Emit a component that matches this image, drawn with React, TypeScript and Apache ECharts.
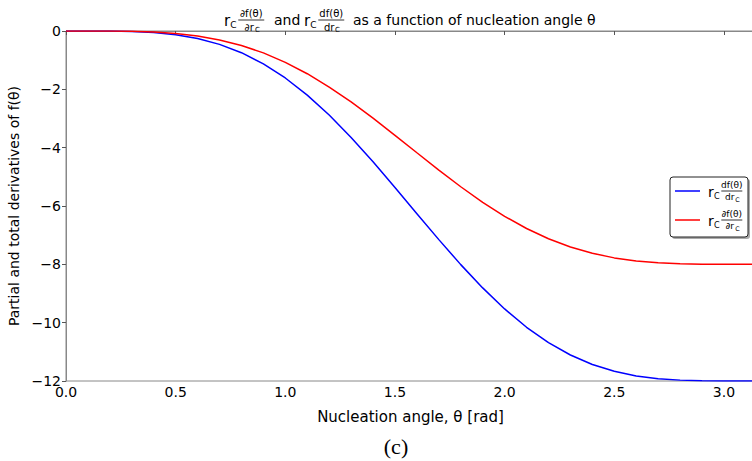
import React, { useEffect, useRef } from "react";
import * as echarts from "echarts";

const theta = [0, 0.1, 0.2, 0.3, 0.4, 0.5, 0.6, 0.7, 0.8, 0.9, 1.0, 1.1, 1.2, 1.3, 1.4, 1.5, 1.6, 1.7, 1.8, 1.9, 2.0, 2.1, 2.2, 2.3, 2.4, 2.5, 2.6, 2.7, 2.8, 2.9, 3.0, 3.1, 3.1416];
const totalDeriv = [0, 0, -0.004, -0.018, -0.055, -0.129, -0.259, -0.459, -0.744, -1.126, -1.611, -2.198, -2.882, -3.65, -4.485, -5.364, -6.263, -7.153, -8.01, -8.808, -9.529, -10.158, -10.685, -11.109, -11.434, -11.668, -11.825, -11.92, -11.97, -11.993, -11.999, -12.0, -12.0];
const partialDeriv = [0, 0, -0.002, -0.012, -0.036, -0.086, -0.172, -0.306, -0.496, -0.751, -1.074, -1.465, -1.921, -2.433, -2.99, -3.576, -4.175, -4.769, -5.34, -5.872, -6.353, -6.772, -7.123, -7.406, -7.623, -7.779, -7.883, -7.947, -7.98, -7.995, -7.999, -8.0, -8.0];

const titleRest = "as a function of nucleation angle θ";
const xName = "Nucleation angle, θ [rad]";
const yName = "Partial and total derivatives of f(θ)";
const caption = "(c)";

const FONT = '"DejaVu Sans", sans-serif';

function txt(text: string, x: number, y: number, size: number, align = "left", extra: any = {}) {
  return {
    type: "text",
    x,
    y,
    z: 100,
    style: {
      text,
      font: `${size}px ${FONT}`,
      fill: "#000",
      textAlign: align,
      textVerticalAlign: "middle",
      ...extra,
    },
  };
}

// r_C followed by fraction num/den (den = prefix + "r" with subscript C)
function rcFrac(x: number, y: number, num: string, denPrefix: string, big: number, small: number, w: number) {
  const cx = x + big * 0.95 + w / 2;
  const els: any[] = [
    txt("r", x, y + 1, big),
    txt("C", x + big * 0.42, y + big * 0.35, small * 0.9),
    txt(num, cx, y - small * 0.65, small, "center"),
    {
      type: "line",
      z: 100,
      shape: { x1: cx - w / 2, y1: y, x2: cx + w / 2, y2: y },
      style: { stroke: "#000", lineWidth: 0.8 },
    },
    txt(denPrefix + "r", cx - 2, y + small * 0.72, small, "center"),
    txt("C", cx + small * 0.38, y + small * 0.95, small * 0.7),
  ];
  return els;
}

export default function App() {
  const ref = useRef<HTMLDivElement>(null);
  useEffect(() => {
    if (!ref.current) return;
    const chart = echarts.init(ref.current, undefined, { renderer: "svg" });
    const blueData = theta.map((t, i) => [t, totalDeriv[i]]);
    const redData = theta.map((t, i) => [t, partialDeriv[i]]);
    const minus = (v: number) => (v < 0 ? "\u2212" + Math.abs(v) : String(v));

    const graphic: any[] = [
      ...rcFrac(224, 20, "∂f(θ)", "∂", 15, 10, 26),
      txt("and", 274, 20, 14),
      ...rcFrac(304, 20, "df(θ)", "d", 15, 10, 26),
      txt(titleRest, 353, 20, 14),
      // legend shadow + box
      {
        type: "rect",
        z: 99,
        shape: { x: 672, y: 179, width: 78, height: 60, r: 3 },
        style: { fill: "#aaa", stroke: "none" },
      },
      {
        type: "rect",
        z: 99,
        shape: { x: 670, y: 177, width: 78, height: 60, r: 3 },
        style: { fill: "#fff", stroke: "#222", lineWidth: 1 },
      },
      {
        type: "line",
        z: 100,
        shape: { x1: 675, y1: 191, x2: 700, y2: 191 },
        style: { stroke: "#0000ff", lineWidth: 1.5 },
      },
      ...rcFrac(708, 191, "df(θ)", "d", 14, 9, 21),
      {
        type: "line",
        z: 100,
        shape: { x1: 675, y1: 220, x2: 700, y2: 220 },
        style: { stroke: "#ff0000", lineWidth: 1.5 },
      },
      ...rcFrac(708, 220, "∂f(θ)", "∂", 14, 9, 21),
      txt(caption, 396, 446, 22, "center", { font: '22px "Liberation Serif", serif' }),
    ];

    chart.setOption({
      animation: false,
      backgroundColor: "#fff",
      grid: {
        left: 66,
        top: 31,
        right: -3,
        bottom: 80,
        containLabel: false,
        outerBoundsMode: "none",
        show: true,
        borderColor: "#888",
        borderWidth: 1,
        backgroundColor: "transparent",
      },
      xAxis: {
        type: "value",
        min: 0,
        max: Math.PI,
        interval: 0.5,
        name: xName,
        nameLocation: "middle",
        nameGap: 28,
        nameTextStyle: { fontFamily: FONT, fontSize: 15, color: "#000" },
        axisLine: { show: true, lineStyle: { color: "#888" } },
        axisTick: { show: true, length: 4, lineStyle: { color: "#555" } },
        axisLabel: {
          fontFamily: FONT,
          fontSize: 14,
          color: "#000",
          margin: 4,
          showMaxLabel: false,
          formatter: (v: number) => v.toFixed(1),
        },
        splitLine: { show: false },
      },
      yAxis: {
        type: "value",
        min: -12,
        max: 0,
        interval: 2,
        name: yName,
        nameLocation: "middle",
        nameGap: 40,
        nameRotate: 90,
        nameTextStyle: { fontFamily: FONT, fontSize: 14, color: "#000" },
        axisLine: { show: true, lineStyle: { color: "#888" } },
        axisTick: { show: true, length: 4, lineStyle: { color: "#555" } },
        axisLabel: {
          fontFamily: FONT,
          fontSize: 14,
          color: "#000",
          margin: 5,
          formatter: minus,
        },
        splitLine: { show: false },
      },
      graphic,
      series: [
        {
          name: "total",
          type: "line",
          data: blueData,
          showSymbol: false,
          lineStyle: { color: "#0000ff", width: 1.5 },
          z: 3,
        },
        {
          name: "partial",
          type: "line",
          data: redData,
          showSymbol: false,
          lineStyle: { color: "#ff0000", width: 1.5 },
          z: 4,
        },
      ],
    });
    return () => chart.dispose();
  }, []);
  return (
    <div
      ref={ref}
      style={{ position: "fixed", left: 0, top: 0, width: 752, height: 461 }}
    />
  );
}
